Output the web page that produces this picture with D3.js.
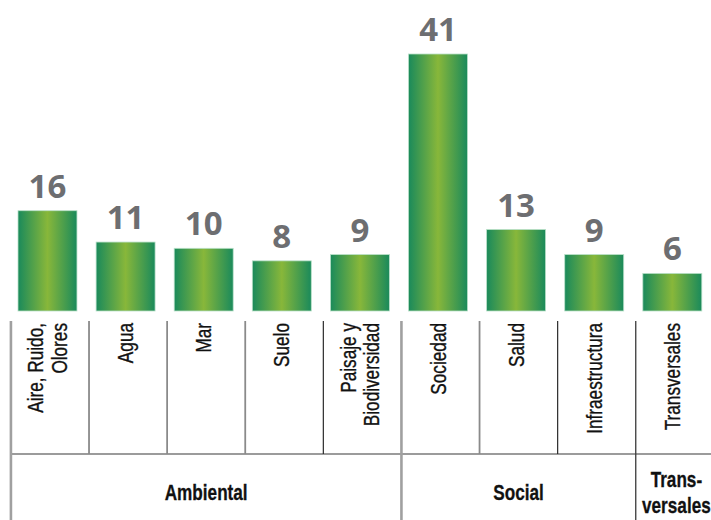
<!DOCTYPE html>
<html>
<head>
<meta charset="utf-8">
<script src="https://cdn.jsdelivr.net/npm/d3@7"></script>
<style>
  html, body { margin: 0; padding: 0; background: #fff; }
  svg { display: block; }
</style>
</head>
<body>
<svg id="chart" width="711" height="520"></svg>
<script>
const categories = [
  ["Aire, Ruido,", "Olores"],
  ["Agua"],
  ["Mar"],
  ["Suelo"],
  ["Paisaje y", "Biodiversidad"],
  ["Sociedad"],
  ["Salud"],
  ["Infraestructura"],
  ["Transversales"]
];
const values = [16, 11, 10, 8, 9, 41, 13, 9, 6];
const groupNames = [["Ambiental"], ["Social"], ["Trans-", "versales"]];
const groupSizes = [5, 3, 1];

const W = 711, H = 520;
const svg = d3.select("#chart");
const idx = d3.range(values.length);

const baseY = 311, topY = 54;
const x = d3.scaleBand().domain(idx).range([18, 701.8]).paddingInner(0.245).paddingOuter(0);
const y = d3.scaleLinear().domain([0, d3.max(values)]).range([baseY, topY]);

// gradient
const defs = svg.append("defs");
const grad = defs.append("linearGradient").attr("id", "barGrad")
  .attr("x1", "0%").attr("x2", "100%").attr("y1", "0%").attr("y2", "0%");
grad.append("stop").attr("offset", "0%").attr("stop-color", "#1a8a5b");
grad.append("stop").attr("offset", "50%").attr("stop-color", "#88b73a");
grad.append("stop").attr("offset", "100%").attr("stop-color", "#1a8a5b");

// bars
svg.append("g").selectAll("rect").data(idx).join("rect")
  .attr("x", i => x(i))
  .attr("y", i => y(values[i]))
  .attr("width", x.bandwidth())
  .attr("height", i => baseY - y(values[i]))
  .attr("fill", "url(#barGrad)")
  .attr("stroke", "#b9e0c8")
  .attr("stroke-width", 0.8);

// value labels
svg.append("g").selectAll("text").data(idx).join("text")
  .attr("x", i => x(i) + x.bandwidth() / 2)
  .attr("y", i => y(values[i]) - 13)
  .attr("text-anchor", "middle")
  .attr("font-family", "'Open Sans', sans-serif")
  .attr("font-weight", 700)
  .attr("font-size", 33)
  .attr("fill", "#6d6e71")
  .text(i => values[i]);

// group start indices
const groupStarts = [];
let acc = 0;
groupSizes.forEach(s => { groupStarts.push(acc); acc += s; });
const sepOffset = (x.step() - x.bandwidth()) * 0.37;
const sepX = i => x(i) - sepOffset;
const lineTop = 321, midLine = 454;
const lastStart = groupStarts[groupStarts.length - 1];

// horizontal line
svg.append("line")
  .attr("x1", sepX(0)).attr("x2", W)
  .attr("y1", midLine).attr("y2", midLine)
  .attr("stroke", "#7a7a7a").attr("stroke-width", 1.5);

// vertical separators
svg.append("g").selectAll("line").data(idx).join("line")
  .attr("x1", i => sepX(i)).attr("x2", i => sepX(i))
  .attr("y1", lineTop)
  .attr("y2", i => groupStarts.includes(i) ? H : midLine)
  .attr("stroke", i => {
    if (i === lastStart) return "#3a3a3a";
    if (groupStarts.includes(i)) return "#a0a0a0";
    if (groupStarts.includes(i + 1)) return "#2a2a2a";
    return "#8a8a8a";
  })
  .attr("stroke-width", i => {
    if (i === lastStart) return 1.3;
    if (groupStarts.includes(i)) return 2.6;
    if (groupStarts.includes(i + 1)) return 1.2;
    return 1.8;
  });

// category labels (rotated, condensed)
const lineGap = 23.5;
const catFont = "'Liberation Sans', Arial, sans-serif";
const cg = svg.append("g");
idx.forEach(i => {
  const lines = categories[i];
  const cx = x(i) + x.bandwidth() / 2;
  lines.forEach((t, j) => {
    const bx = cx + 7.5 + (j - (lines.length - 1) / 2) * lineGap;
    cg.append("text")
      .attr("transform", `translate(${bx},323) rotate(-90) scale(0.8,1)`)
      .attr("text-anchor", "end")
      .attr("font-family", catFont)
      .attr("font-size", 21.5)
      .attr("fill", "#111")
      .attr("stroke", "#111")
      .attr("stroke-width", 0.35)
      .text(t);
  });
});

// group labels
const gg = svg.append("g");
groupNames.forEach((lines, g) => {
  const s = groupStarts[g];
  const e = s + groupSizes[g];
  const left = sepX(s);
  const right = e < values.length ? sepX(e) : W;
  const cx = (left + right) / 2 + (lines.length > 1 ? 3 : 0);
  const n = lines.length;
  lines.forEach((t, j) => {
    const by = n === 1 ? 500 : 487 + j * 26;
    gg.append("text")
      .attr("transform", `translate(${cx},${by}) scale(0.78,1)`)
      .attr("text-anchor", "middle")
      .attr("font-family", catFont)
      .attr("font-weight", 700)
      .attr("font-size", 22)
      .attr("fill", "#111")
      .attr("stroke", "#111")
      .attr("stroke-width", 0.3)
      .text(t);
  });
});
</script>
</body>
</html>
